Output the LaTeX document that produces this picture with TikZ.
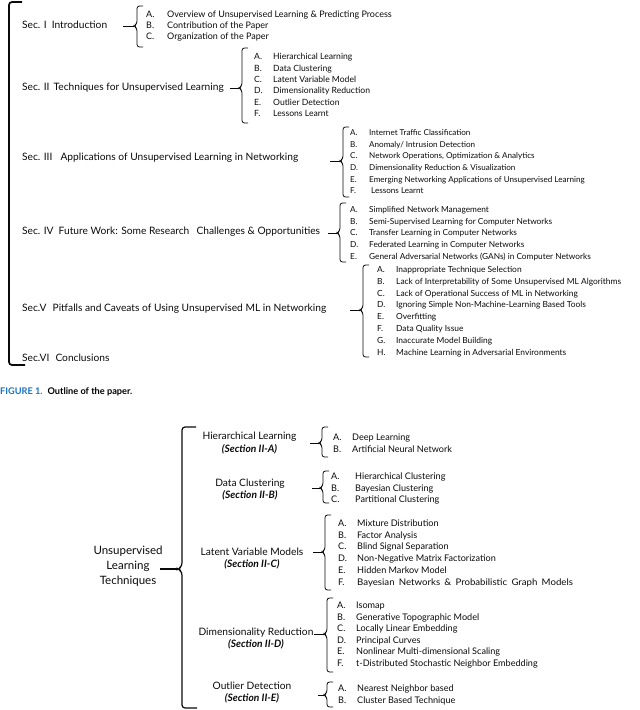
\documentclass[tikz,border=0pt]{standalone}
\usepackage{fontspec}
\setmainfont{Lato}
\usetikzlibrary{calc}
\definecolor{capblue}{RGB}{25,115,195}
\definecolor{ink}{RGB}{10,10,10}
\newlength\ltw
\newcommand\lt[1]{\makebox[\ltw][l]{#1}}
\newcommand\mybrk[5]{%
  \coordinate (#1) at (#2-3,#5);
  \draw[brk] (#2+6,#3) -- (#2,#3) -- (#2,#5-2.5) -- (#1) -- (#2,#5+2.5) -- (#2,#4) -- (#2+6,#4);
}
\tikzset{
  seclbl/.style={anchor=west, inner sep=0pt, text height=0.7em, text depth=0.2em, text=ink, font=\fontsize{10.2}{12}\selectfont},
  itm/.style={anchor=west, inner sep=0pt, text height=0.7em, text depth=0.2em, text=ink, font=\fontsize{#1}{10}\selectfont},
  itm/.default=8.3,
  itmb/.style={anchor=west, inner sep=0pt, text height=0.7em, text depth=0.2em, text=ink, font=\fontsize{9.1}{11}\selectfont},
  catlbl/.style={align=center, inner sep=0pt, text=ink, font=\fontsize{10.2}{12.8}\selectfont},
  rootlbl/.style={align=center, inner sep=0pt, text=ink, font=\fontsize{11.5}{15}\selectfont},
  brk/.style={draw=ink, line width=0.8pt, rounded corners=2.5pt},
  conn/.style={draw=ink, line width=0.8pt},
  bigbrk/.style={draw=ink, line width=1.7pt, rounded corners=3pt},
}
\begin{document}
\begin{tikzpicture}[x=1pt,y=-1pt]
\useasboundingbox (0,0) rectangle (640,710);
% ---------------- Figure 1 ----------------
\draw[bigbrk] (22,2) -- (9,2) -- (9,365) -- (25,365);
\node[seclbl] (s1) at (22,26) {Sec. I\hspace{0.5em}Introduction};
\node[seclbl] (s2) at (22,88) {Sec. II\hspace{0.4em}Techniques for Unsupervised Learning};
\node[seclbl] (s3) at (22,158) {Sec. III\hspace{0.8em}Applications of Unsupervised Learning in Networking};
\node[seclbl] (s4) at (22,232) {Sec. IV\hspace{0.5em}Future Work: Some Research\hspace{0.7em}Challenges \& Opportunities};
\node[seclbl] (s5) at (22,309) {Sec.V\hspace{0.6em}Pitfalls and Caveats of Using Unsupervised ML in Networking};
\node[seclbl] (s6) at (22,359) {Sec.VI\hspace{0.6em}Conclusions};
% braces
\mybrk{b1}{137}{6}{47}{26}
\mybrk{b2}{242}{48}{123}{88}
\mybrk{b3}{343}{127}{197}{161}
\mybrk{b4}{340}{203}{262}{233}
\mybrk{b5}{363}{265}{357}{310}
\coordinate (c1) at (123,26);
\coordinate (c2) at (230,88);
\coordinate (c3) at (330,161);
\coordinate (c4) at (328,233);
\coordinate (c5) at (350,310);
\draw[conn] (c1) -- (b1);
\draw[conn] (c2) -- (b2);
\draw[conn] (c3) -- (b3);
\draw[conn] (c4) -- (b4);
\draw[conn] (c5) -- (b5);
% items Sec I
\setlength\ltw{21pt}
\node[itm=9] (i1a) at (146,15) {\lt{A.}Overview of Unsupervised Learning \& Predicting Process};
\node[itm=9] (i1b) at (146,26) {\lt{B.}Contribution of the Paper};
\node[itm=9] (i1c) at (146,37) {\lt{C.}Organization of the Paper};
% items Sec II
\setlength\ltw{19pt}
\node[itm=8.6] (i2a) at (254,57) {\lt{A.}Hierarchical Learning};
\node[itm=8.6] (i2b) at (254,68.5) {\lt{B.}Data Clustering};
\node[itm=8.6] (i2c) at (254,80) {\lt{C.}Latent Variable Model};
\node[itm=8.6] (i2d) at (254,91) {\lt{D.}Dimensionality Reduction};
\node[itm=8.6] (i2e) at (254,102.5) {\lt{E.}Outlier Detection};
\node[itm=8.6] (i2f) at (254,114) {\lt{F.}Lessons Learnt};
% items Sec III
\node[itm=8.1] (i3a) at (350,133) {\lt{A.}Internet Traffic Classification};
\node[itm=8.1] (i3b) at (350,144.5) {\lt{B.}Anomaly/ Intrusion Detection};
\node[itm=8.1] (i3c) at (350,156) {\lt{C.}Network Operations, Optimization \& Analytics};
\node[itm=8.1] (i3d) at (350,167.5) {\lt{D.}Dimensionality Reduction \& Visualization};
\node[itm=8.1] (i3e) at (350,179.5) {\lt{E.}Emerging Networking Applications of Unsupervised Learning};
\node[itm=8.1] (i3f) at (350,191) {\lt{F.}\hspace{2pt}Lessons Learnt};
% items Sec IV
\node[itm] (i4a) at (350,210) {\lt{A.}Simplified Network Management};
\node[itm] (i4b) at (350,222) {\lt{B.}Semi-Supervised Learning for Computer Networks};
\node[itm] (i4c) at (350,233) {\lt{C.}Transfer Learning in Computer Networks};
\node[itm] (i4d) at (350,245) {\lt{D.}Federated Learning in Computer Networks};
\node[itm] (i4e) at (350,257) {\lt{E.}General Adversarial Networks (GANs) in Computer Networks};
% items Sec V
\node[itm=8.4] (i5a) at (377,270) {\lt{A.}Inappropriate Technique Selection};
\node[itm=8.4] (i5b) at (377,282) {\lt{B.}Lack of Interpretability of Some Unsupervised ML Algorithms};
\node[itm=8.4] (i5c) at (377,293.5) {\lt{C.}Lack of Operational Success of ML in Networking};
\node[itm=8.4] (i5d) at (377,305) {\lt{D.}Ignoring Simple Non-Machine-Learning Based Tools};
\node[itm=8.4] (i5e) at (377,317) {\lt{E.}Overfitting};
\node[itm=8.4] (i5f) at (377,329) {\lt{F.}Data Quality Issue};
\node[itm=8.4] (i5g) at (377,341) {\lt{G.}Inaccurate Model Building};
\node[itm=8.4] (i5h) at (377,353) {\lt{H.}Machine Learning in Adversarial Environments};
% caption
\node[anchor=west, inner sep=0pt, font=\fontsize{9.2}{11}\selectfont\bfseries] (cap) at (0,392)
  {\textcolor{capblue}{FIGURE 1.}\hspace{5pt}Outline of the paper.};
% ---------------- Figure 2 ----------------
\node[rootlbl] (root) at (128,566) {Unsupervised\\Learning\\Techniques};
\coordinate (b0) at (178,569);
\draw[ink, line width=1.2pt, rounded corners=3pt] (196,427) -- (182,427) -- (182,566) -- (b0) -- (182,572) -- (182,708) -- (197,708);
\coordinate (c0) at (160,569);
\draw[conn, line width=1.1pt] (c0) -- (b0);
% categories
\node[catlbl] (k1) at (249.5,443) {Hierarchical Learning\\\textbf{\textit{(Section II-A)}}};
\node[catlbl] (k2) at (250,489.5) {Data Clustering\\\textbf{\textit{(Section II-B)}}};
\node[catlbl] (k3) at (252,558.5) {Latent Variable Models\\\textbf{\textit{(Section II-C)}}};
\node[catlbl] (k4) at (256,638.5) {Dimensionality Reduction\\\textbf{\textit{(Section II-D)}}};
\node[catlbl] (k5) at (252,692.5) {Outlier Detection\\\textbf{\textit{(Section II-E)}}};
% sub braces
\mybrk{d1}{322}{427}{457}{443}
\mybrk{d2}{323}{471}{503}{488}
\mybrk{d3}{325}{515}{590}{552}
\mybrk{d4}{327}{598}{672}{634}
\mybrk{d5}{327}{682}{707}{695}
\coordinate (e1) at (310,443);
\coordinate (e2) at (312,488);
\coordinate (e3) at (313,552);
\coordinate (e4) at (314,634);
\coordinate (e5) at (318,695);
\draw[conn] (e1) -- (d1);
\draw[conn] (e2) -- (d2);
\draw[conn] (e3) -- (d3);
\draw[conn] (e4) -- (d4);
\draw[conn] (e5) -- (d5);
% items
\setlength\ltw{19pt}
\node[itmb] (j1a) at (333,438) {\lt{A.}Deep Learning};
\node[itmb] (j1b) at (333,450) {\lt{B.}Artificial Neural Network};
\setlength\ltw{24pt}
\node[itmb] (j2a) at (331,477) {\lt{A.}Hierarchical Clustering};
\node[itmb] (j2b) at (331,488.5) {\lt{B.}Bayesian Clustering};
\node[itmb] (j2c) at (331,500) {\lt{C.}Partitional Clustering};
\setlength\ltw{19pt}
\node[itmb] (j3a) at (338,524) {\lt{A.}Mixture Distribution};
\node[itmb] (j3b) at (338,535.5) {\lt{B.}Factor Analysis};
\node[itmb] (j3c) at (338,547) {\lt{C.}Blind Signal Separation};
\node[itmb] (j3d) at (338,558.5) {\lt{D.}Non-Negative Matrix Factorization};
\node[itmb] (j3e) at (338,570.5) {\lt{E.}Hidden Markov Model};
\node[itmb] (j3f) at (338,582.5) {\lt{F.}\scalebox{1.06}[1]{Bayesian\hspace{4pt}Networks\hspace{4pt}\&\hspace{4pt}Probabilistic\hspace{4pt}Graph\hspace{4pt}Models}};
\node[itmb] (j4a) at (337,606) {\lt{A.}Isomap};
\node[itmb] (j4b) at (337,617.5) {\lt{B.}Generative Topographic Model};
\node[itmb] (j4c) at (337,629) {\lt{C.}Locally Linear Embedding};
\node[itmb] (j4d) at (337,640.5) {\lt{D.}Principal Curves};
\node[itmb] (j4e) at (337,652) {\lt{E.}Nonlinear Multi-dimensional Scaling};
\node[itmb] (j4f) at (337,664) {\lt{F.}t-Distributed Stochastic Neighbor Embedding};
\node[itmb] (j5a) at (338,689) {\lt{A.}Nearest Neighbor based};
\node[itmb] (j5b) at (338,701) {\lt{B.}Cluster Based Technique};
\end{tikzpicture}
\end{document}
